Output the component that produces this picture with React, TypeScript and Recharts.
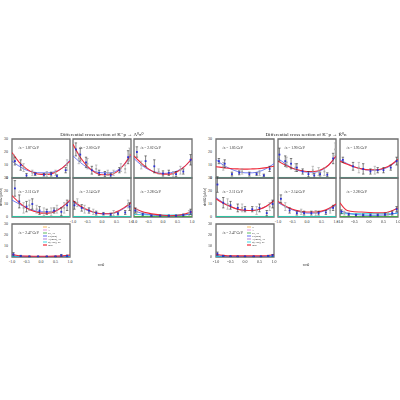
import React from 'react';
import { ComposedChart, Line, Scatter, ErrorBar, XAxis, YAxis, ReferenceArea } from 'recharts';

// angular grid used for the model curves
const COS = [-1, -0.75, -0.5, -0.25, 0, 0.25, 0.5, 0.75, 1];
const X_TICKS = [-1, -0.5, 0, 0.5, 1];
const Y_TICKS = [0, 10, 20, 30];

const LEFT_LABELS = ['1.87', '2.00', '2.02', '2.11', '2.14', '2.28', '2.47'];
const RIGHT_LABELS = ['1.85', '1.90', '1.95', '2.11', '2.14', '2.28', '2.47'];

// total (red)
const LEFT_TOTAL = [
  [19.5, 12, 7, 4, 2.8, 2.8, 4.5, 8, 13],
  [26, 16, 9, 4.5, 2.5, 2.5, 4.5, 10, 18.5],
  [17, 11.5, 7, 4, 3, 3, 5, 9, 15],
  [16.5, 11, 7, 4.5, 3, 3, 4.5, 8, 13],
  [12.5, 8.5, 5.5, 3.5, 2.5, 2.5, 4, 7, 11],
  [7, 4.5, 3, 2, 1.3, 1, 1.3, 2.3, 4],
  [2.5, 1.2, 0.8, 0.7, 0.7, 0.7, 0.8, 1, 1.8],
];
const RIGHT_TOTAL = [
  [8.7, 8, 7.3, 7, 6.8, 7, 7.3, 8, 9],
  [13, 10, 7.5, 6, 5, 5, 6.5, 10, 17],
  [13, 10.5, 8.5, 7, 6.3, 6.3, 7.5, 10, 14.5],
  [14, 10.5, 8, 6, 5.2, 5, 6, 8.5, 12.5],
  [12, 8.5, 6, 4.5, 3.8, 3.8, 4.5, 6.5, 10],
  [11, 5, 4, 3.8, 3.5, 3.3, 3.3, 4.5, 7],
  [2.5, 1.5, 1, 1, 1, 1, 1, 1.2, 2],
];

// K*(892) component (blue)
const LEFT_KSTAR = [
  [13, 9, 6, 4.5, 4, 4, 5, 8, 14],
  [17, 12, 8, 5, 4, 4, 5.5, 10, 17],
  [15, 10, 6.5, 4.5, 3.5, 4, 5.5, 9, 14.5],
  [13, 10, 7, 5, 4, 4, 5, 8, 12],
  [11.5, 8, 5, 3.5, 2.5, 2.5, 3.5, 6.5, 10.5],
  [5, 3, 2, 1.3, 1, 0.8, 1, 1.5, 2.5],
  [1.3, 0.8, 0.5, 0.4, 0.4, 0.4, 0.5, 0.6, 1],
];
const RIGHT_KSTAR = [
  [14, 10, 7, 5, 4, 4, 5, 7.5, 11],
  [15, 11, 7.5, 5.5, 4.5, 4.5, 6, 10, 16.5],
  [14, 11, 8.5, 7, 6, 6, 7, 9.5, 14],
  [15, 11, 8, 6, 5, 5, 6, 8.5, 13],
  [11, 8, 5.5, 4, 3, 3, 4, 6, 9],
  [5, 3, 2, 1.5, 1.3, 1.3, 1.5, 2, 3.5],
  [1.2, 0.8, 0.6, 0.5, 0.5, 0.5, 0.5, 0.6, 1],
];

// Σ(1385) component (cyan), only visible at higher energies
const LEFT_SIGMA = [
  [0.1, 0.1, 0.1, 0.1, 0.1, 0.1, 0.1, 0.1, 0.1],
  [0.1, 0.1, 0.1, 0.1, 0.1, 0.1, 0.1, 0.1, 0.1],
  [0.1, 0.1, 0.1, 0.1, 0.1, 0.1, 0.1, 0.1, 0.1],
  [0.1, 0.1, 0.1, 0.1, 0.1, 0.1, 0.1, 0.1, 0.1],
  [0.2, 0.2, 0.2, 0.2, 0.2, 0.2, 0.2, 0.2, 0.2],
  [2, 1.8, 1.6, 1.5, 1.5, 1.5, 1.6, 1.8, 2.2],
  [0.4, 0.4, 0.4, 0.4, 0.4, 0.4, 0.4, 0.4, 0.4],
];
const RIGHT_SIGMA = [
  [0.1, 0.1, 0.1, 0.1, 0.1, 0.1, 0.1, 0.1, 0.1],
  [0.1, 0.1, 0.1, 0.1, 0.1, 0.1, 0.1, 0.1, 0.1],
  [0.1, 0.1, 0.1, 0.1, 0.1, 0.1, 0.1, 0.1, 0.1],
  [0.1, 0.1, 0.1, 0.1, 0.1, 0.1, 0.1, 0.1, 0.1],
  [0.2, 0.2, 0.2, 0.2, 0.2, 0.2, 0.2, 0.2, 0.2],
  [3, 2.5, 2.5, 2.5, 2.5, 2.5, 2.5, 2.5, 3],
  [0.4, 0.4, 0.4, 0.4, 0.4, 0.4, 0.4, 0.4, 0.4],
];

// Λ* component (green), flat near zero
const GREEN_LEVEL = [0.4, 0.4, 0.4, 0.4, 0.4, 0.4, 0.4, 0.4, 0.4];

// measured points (blue squares)
const LEFT_PTS_X = [
  [-0.9, -0.7, -0.5, -0.2, 0.1, 0.35, 0.55, 0.85],
  [-0.9, -0.75, -0.55, -0.35, -0.1, 0.1, 0.3, 0.6, 0.9],
  [-0.9, -0.6, -0.3, 0, 0.2, 0.45, 0.7, 0.95],
  [-0.9, -0.75, -0.5, -0.3, -0.05, 0.2, 0.45, 0.7, 0.9],
  [-0.95, -0.7, -0.45, -0.2, 0.05, 0.3, 0.55, 0.8, 0.95],
  [-0.95, -0.7, -0.4, -0.1, 0.2, 0.45, 0.7, 0.95],
  [-0.95, -0.7, -0.4, -0.1, 0.2, 0.5, 0.7, 0.9],
];
const LEFT_PTS_Y = [
  [13, 10, 2, 3, 2.5, 3, 1.5, 6],
  [22, 18, 12, 6, 4, 3, 2, 6, 16],
  [20, 13, 9, 3.5, 4, 3, 5, 14],
  [22, 12, 8, 10, 5, 4, 5, 4, 9],
  [9, 7, 5, 3, 2.5, 2, 2.5, 3.5, 8],
  [5, 2, 1, 1, 1, 1, 1.5, 4],
  [2.5, 1, 0.5, 0.5, 0.5, 0.5, 1.5, 1],
];
const LEFT_PTS_ERR = [
  [3, 4, 1.5, 1, 1, 1.5, 1, 2],
  [5, 5, 4, 3, 2, 2, 1.5, 2, 5],
  [4, 4, 5, 2, 2, 2, 2, 4],
  [6, 5, 4, 4, 3, 2, 2, 3, 4],
  [3, 2.5, 2, 1.5, 1, 1, 1, 1.5, 3],
  [2, 1, 0.5, 0.5, 0.5, 0.5, 0.8, 2],
  [1.5, 0.5, 0.3, 0.3, 0.3, 0.3, 0.8, 0.8],
];
const RIGHT_PTS_X = [
  [-0.9, -0.7, -0.45, -0.2, 0.15, 0.4, 0.65, 0.85],
  [-0.95, -0.75, -0.55, -0.35, -0.15, 0.05, 0.25, 0.45, 0.7, 0.9],
  [-0.9, -0.55, -0.2, 0.05, 0.3, 0.5, 0.75, 0.95],
  [-0.95, -0.75, -0.5, -0.25, 0, 0.25, 0.5, 0.75, 0.95],
  [-0.9, -0.6, -0.35, -0.1, 0.15, 0.4, 0.65, 0.9],
  [-0.95, -0.7, -0.45, -0.2, 0.05, 0.3, 0.55, 0.8, 0.95],
  [-0.95, -0.75, -0.5, -0.25, 0, 0.3, 0.55, 0.8, 0.95],
];
const RIGHT_PTS_Y = [
  [13, 11, 3, 4, 3, 3, 2, 7],
  [18, 13, 11, 8, 5, 3, 2, 3, 2.5, 15],
  [14, 9, 7, 5, 6, 6, 8, 13],
  [25, 11, 9, 7, 6, 6, 7, 3, 10],
  [14, 5, 3, 3, 3, 3, 3.5, 7],
  [4, 2, 1.5, 1.5, 1.5, 1.5, 2, 3, 6],
  [3, 1, 0.7, 0.5, 0.5, 0.5, 0.5, 1, 1.5],
];
const RIGHT_PTS_ERR = [
  [2, 3, 1.5, 1.5, 1.5, 1, 1, 2],
  [5, 4, 4, 3, 2, 2, 1.5, 1.5, 1.5, 4],
  [2, 3, 4, 2, 2, 2, 2, 3],
  [6, 4, 3, 3, 2, 2, 3, 2, 3],
  [3, 2, 1.5, 1.5, 1.5, 1.5, 1.5, 2],
  [1.5, 1, 0.8, 0.8, 0.8, 0.8, 1, 1.5, 2],
  [1.5, 0.5, 0.3, 0.3, 0.3, 0.3, 0.3, 0.5, 0.8],
];

// second data set (grey error bars)
const LEFT_ALT_X = [
  [-0.95, -0.6, -0.3, 0.2, 0.5, 0.9],
  [-0.8, -0.5, -0.2, 0.2, 0.4, 0.65, 0.8, 0.95],
  [-0.75, -0.15, 0.35, 0.6],
  [-0.6, -0.4, -0.15, 0.1, 0.35, 0.55, 0.8],
  [-0.85, -0.6, -0.3, 0.4, 0.9],
  [-0.9, 0.9],
  [],
];
const LEFT_ALT_Y = [
  [15, 8, 4, 3, 4, 10],
  [15, 11, 7, 4, 4, 8, 7, 18],
  [10, 5, 3, 6],
  [7, 9, 6, 4, 4, 6, 7],
  [11, 6, 4, 3, 10],
  [4, 3],
  [],
];
const LEFT_ALT_ERR = [
  [3, 3, 2, 2, 2, 4],
  [4, 4, 3, 2, 2, 3, 3, 5],
  [3, 2, 2, 3],
  [4, 4, 3, 3, 3, 3, 4],
  [3, 3, 2, 2, 3],
  [2, 2],
  [],
];
const RIGHT_ALT_X = [
  [-0.75, -0.1, 0.5],
  [-0.7, -0.4, 0.2, 0.4, 0.6, 0.97],
  [-0.35, 0.2],
  [-0.6, -0.1, 0.4, 0.85],
  [-0.75, -0.2, 0.3, 0.8],
  [-0.85, 0.65],
  [],
];
const RIGHT_ALT_Y = [
  [9, 5, 4],
  [12, 8, 6, 5, 5, 22],
  [8, 6],
  [10, 7, 5, 8],
  [8, 4, 3, 5],
  [3, 2.5],
  [],
];
const RIGHT_ALT_ERR = [
  [3, 2, 2],
  [4, 3, 3, 3, 3, 5],
  [4, 3],
  [4, 3, 3, 3],
  [3, 2, 2, 2],
  [1.5, 1],
  [],
];

const LEGEND_NAMES = ['N', 'Δ', 'Σ*, Λ*', 'K*(892)', 'Λ(1405), Λ*', 'Σ(1385), Σ*', 'total'];
const LEGEND_COLORS = ['#f5b041', '#e580e0', '#3cb043', '#3f51f5', '#a06ad0', '#19d3e0', '#ee2a3a'];

const ROW_Y = [139, 178, 224];
const ROW_H = [39, 39, 33];
const LEFT_COL_X = [12, 73, 134];
const RIGHT_COL_X = [216, 278, 340];
const COL_W = 58;
const SLOTS = [
  [0, 0], [0, 1], [0, 2],
  [1, 0], [1, 1], [1, 2],
  [2, 0],
];
const YW = 12;
const XH = 8;
const FONT = 'Liberation Serif, DejaVu Serif, serif';

const curve = (vals: number[]) => COS.map((x, i) => ({ x, y: vals[i] }));
const points = (xs: number[], ys: number[], es: number[]) => xs.map((x, i) => ({ x, y: ys[i], e: es[i] }));

const square = (color: string) => (p: any) => (
  <rect x={p.cx - 0.9} y={p.cy - 0.9} width={1.8} height={1.8} fill={color} />
);

function Plot({ left, top, h, showY, showX, idx, side }: any) {
  const total = side === 'L' ? LEFT_TOTAL : RIGHT_TOTAL;
  const kstar = side === 'L' ? LEFT_KSTAR : RIGHT_KSTAR;
  const sigma = side === 'L' ? LEFT_SIGMA : RIGHT_SIGMA;
  const pts = side === 'L'
    ? points(LEFT_PTS_X[idx], LEFT_PTS_Y[idx], LEFT_PTS_ERR[idx])
    : points(RIGHT_PTS_X[idx], RIGHT_PTS_Y[idx], RIGHT_PTS_ERR[idx]);
  const alt = side === 'L'
    ? points(LEFT_ALT_X[idx], LEFT_ALT_Y[idx], LEFT_ALT_ERR[idx])
    : points(RIGHT_ALT_X[idx], RIGHT_ALT_Y[idx], RIGHT_ALT_ERR[idx]);
  const cw = COL_W + (showY ? YW : 0);
  const ch = h + (showX ? XH : 0);
  const tick = { fontSize: 4, fill: '#333', fontFamily: FONT };
  return (
    <div style={{ position: 'absolute', left: left - (showY ? YW : 0), top, width: cw, height: ch }}>
      <ComposedChart width={cw} height={ch} margin={{ top: 0, right: 0, bottom: 0, left: 0 }} style={{ overflow: 'visible' }}>
        <XAxis type="number" dataKey="x" domain={[-1, 1]} ticks={X_TICKS} hide={!showX} height={XH}
          tickLine={false} axisLine={false} tick={tick} tickSize={1} interval={0}
          tickFormatter={(v: number) => v.toFixed(1)} allowDataOverflow />
        <YAxis type="number" dataKey="y" domain={[0, 30]} ticks={Y_TICKS} hide={!showY} width={YW}
          tickLine={false} axisLine={false} tick={tick} tickSize={2} interval={0} allowDataOverflow />
        <ReferenceArea x1={-1} x2={1} y1={0} y2={30} fill="none" stroke="#6e6e6e" strokeWidth={1.3} />
        <Line data={curve(GREEN_LEVEL)} dataKey="y" type="monotone" stroke="#3cb043" strokeWidth={0.9} dot={false} isAnimationActive={false} />
        <Line data={curve(sigma[idx])} dataKey="y" type="monotone" stroke="#19d3e0" strokeWidth={0.9} dot={false} isAnimationActive={false} />
        <Line data={curve(kstar[idx])} dataKey="y" type="monotone" stroke="#5060f0" strokeOpacity={0.8} strokeWidth={1} dot={false} isAnimationActive={false} />
        <Line data={curve(total[idx])} dataKey="y" type="monotone" stroke="#ee2a3a" strokeWidth={1.1} dot={false} isAnimationActive={false} />
        <Scatter data={alt} fill="#999" shape={square('#aaa')} isAnimationActive={false}>
          <ErrorBar dataKey="e" direction="y" width={1.2} stroke="#9a9a9a" strokeWidth={0.6} />
        </Scatter>
        <Scatter data={pts} fill="#2a2fd8" shape={square('#2a2fd8')} isAnimationActive={false}>
          <ErrorBar dataKey="e" direction="y" width={1.2} stroke="#333" strokeWidth={0.6} />
        </Scatter>
      </ComposedChart>
    </div>
  );
}

function Overlay({ side, cols, titleX, reaction }: any) {
  const labels = side === 'L' ? LEFT_LABELS : RIGHT_LABELS;
  const lgX = cols[0] + 31;
  const lgY = ROW_Y[2] + 3;
  const yl = cols[0] - 10;
  return (
    <g fontFamily={FONT} fill="#222">
      <text x={titleX} y={136} fontSize={5} textAnchor="middle">
        Differential cross section of {reaction}
      </text>
      {SLOTS.map(([r, c], i) => (
        <text key={i} x={cols[c] + 6} y={ROW_Y[r] + (r === 1 ? 15 : 10)} fontSize={3.6}>
          √s = {labels[i]} GeV
        </text>
      ))}
      <text x={yl} y={197} fontSize={3.3} textAnchor="middle" transform={`rotate(-90 ${yl} 197)`}>
        dσ/dΩ [μb/sr]
      </text>
      <text x={cols[1] + 28} y={266} fontSize={3.6} textAnchor="middle">cosθ</text>
      {LEGEND_NAMES.map((n, i) => (
        <g key={n}>
          <line x1={lgX} x2={lgX + 4} y1={lgY + i * 3} y2={lgY + i * 3} stroke={LEGEND_COLORS[i]} strokeWidth={1.2} opacity={i === 6 ? 1 : 0.7} />
          <text x={lgX + 5} y={lgY + i * 3 + 1} fontSize={2.6}>{n}</text>
        </g>
      ))}
    </g>
  );
}

export default function App() {
  const panels = [
    { side: 'L', cols: LEFT_COL_X },
    { side: 'R', cols: RIGHT_COL_X },
  ];
  return (
    <div style={{ position: 'fixed', left: 0, top: 0, width: 400, height: 400, background: '#fff' }}>
      <style>{'.recharts-surface{overflow:visible}'}</style>
      {panels.map((p) =>
        SLOTS.map(([r, c], i) => (
          <Plot key={p.side + i} side={p.side} idx={i} left={p.cols[c]} top={ROW_Y[r]} h={ROW_H[r]}
            showY={c === 0} showX={(r === 1 && c > 0) || r === 2} />
        ))
      )}
      <svg width={400} height={400} style={{ position: 'absolute', left: 0, top: 0, pointerEvents: 'none' }}>
        <Overlay side="L" cols={LEFT_COL_X} titleX={102} reaction="K⁻p → Λ⁰π⁰" />
        <Overlay side="R" cols={RIGHT_COL_X} titleX={306} reaction="K⁻p → K̄⁰n" />
      </svg>
    </div>
  );
}
